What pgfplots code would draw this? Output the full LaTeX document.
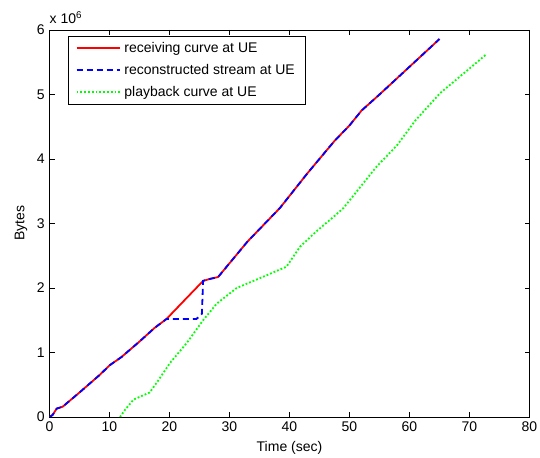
\documentclass[border=0pt]{standalone}
\usepackage{fontspec}
\setmainfont{Liberation Sans}
\usepackage{pgfplots}
\pgfplotsset{compat=1.18}
\definecolor{mred}{RGB}{255,0,0}
\definecolor{mblue}{RGB}{0,0,255}
\definecolor{mgreen}{RGB}{0,255,0}
\begin{document}
\fontsize{14}{16}\selectfont
\begin{tikzpicture}
\begin{axis}[
  scale only axis, width=480pt, height=387pt,
  xmin=0, xmax=80, ymin=0, ymax=6,
  xtick={0,10,...,80}, ytick={0,1,...,6},
  tick align=inside, major tick length=5pt,
  tick style={black, line width=0.6pt},
  axis line style={line width=0.8pt},
  /pgf/number format/assume math mode=true,
  tick label style={font=\fontsize{14}{16}\selectfont},
  label style={font=\fontsize{14}{16}\selectfont},
  xlabel={Time (sec)}, ylabel={Bytes},
  legend style={at={(rel axis cs:0.039,0.9845)}, anchor=north west,
    draw=black, line width=0.8pt, font=\fontsize{14}{16}\selectfont,
    inner xsep=7pt, inner ysep=1pt,
    nodes={inner xsep=4pt, minimum height=22pt}},
  legend cell align=left,
  legend image code/.code={\draw[#1] (0pt,0pt) -- (43pt,0pt);},
]
\addplot[mred, line width=1.8pt] coordinates {
(0,0)(0.5,0.03)(1.2,0.13)(2.2,0.16)(5,0.38)(8.4,0.655)(10,0.8)(12,0.93)
(15,1.17)(17.5,1.38)(19.5,1.52)(25.6,2.11)(26.7,2.14)(28.1,2.17)
(33,2.72)(38.4,3.24)(43,3.78)(47.5,4.28)(50,4.52)(52,4.75)(55,5.0)(60,5.43)(65,5.86)};
\addlegendentry{receiving curve at UE}
\addplot[mblue, line width=1.8pt, dash pattern=on 6pt off 4pt] coordinates {
(0,0)(0.5,0.03)(1.2,0.13)(2.2,0.16)(5,0.38)(8.4,0.655)(10,0.8)(12,0.93)
(15,1.17)(17.5,1.38)(19.5,1.52)(24.5,1.52)(25.4,1.60)(25.6,2.11)(26.7,2.14)(28.1,2.17)
(33,2.72)(38.4,3.24)(43,3.78)(47.5,4.28)(50,4.52)(52,4.75)(55,5.0)(60,5.43)(65,5.86)};
\addlegendentry{reconstructed stream at UE}
\addplot[mgreen, line width=1.8pt, dash pattern=on 1.8pt off 2pt] coordinates {
(11.75,0)(12.5,0.1)(14,0.27)(16.7,0.38)(18,0.55)(20.1,0.84)(22.9,1.15)(25.6,1.5)
(27.9,1.76)(31.2,2.0)(35,2.15)(39.5,2.33)(41.75,2.64)(44.5,2.88)(47.3,3.1)(49,3.24)
(54.5,3.88)(57.9,4.21)(61,4.6)(65.1,5.02)(72.9,5.63)};
\addlegendentry{playback curve at UE}
\end{axis}
\node[anchor=south west, inner sep=0pt] at ([yshift=6pt]current axis.north west) {x 10\textsuperscript{6}};
\pgfresetboundingbox
\path[use as bounding box] ([xshift=-49.5pt,yshift=-40.7pt]current axis.south west)
  rectangle ([xshift=10.5pt,yshift=30pt]current axis.north east);
\end{tikzpicture}
\end{document}
